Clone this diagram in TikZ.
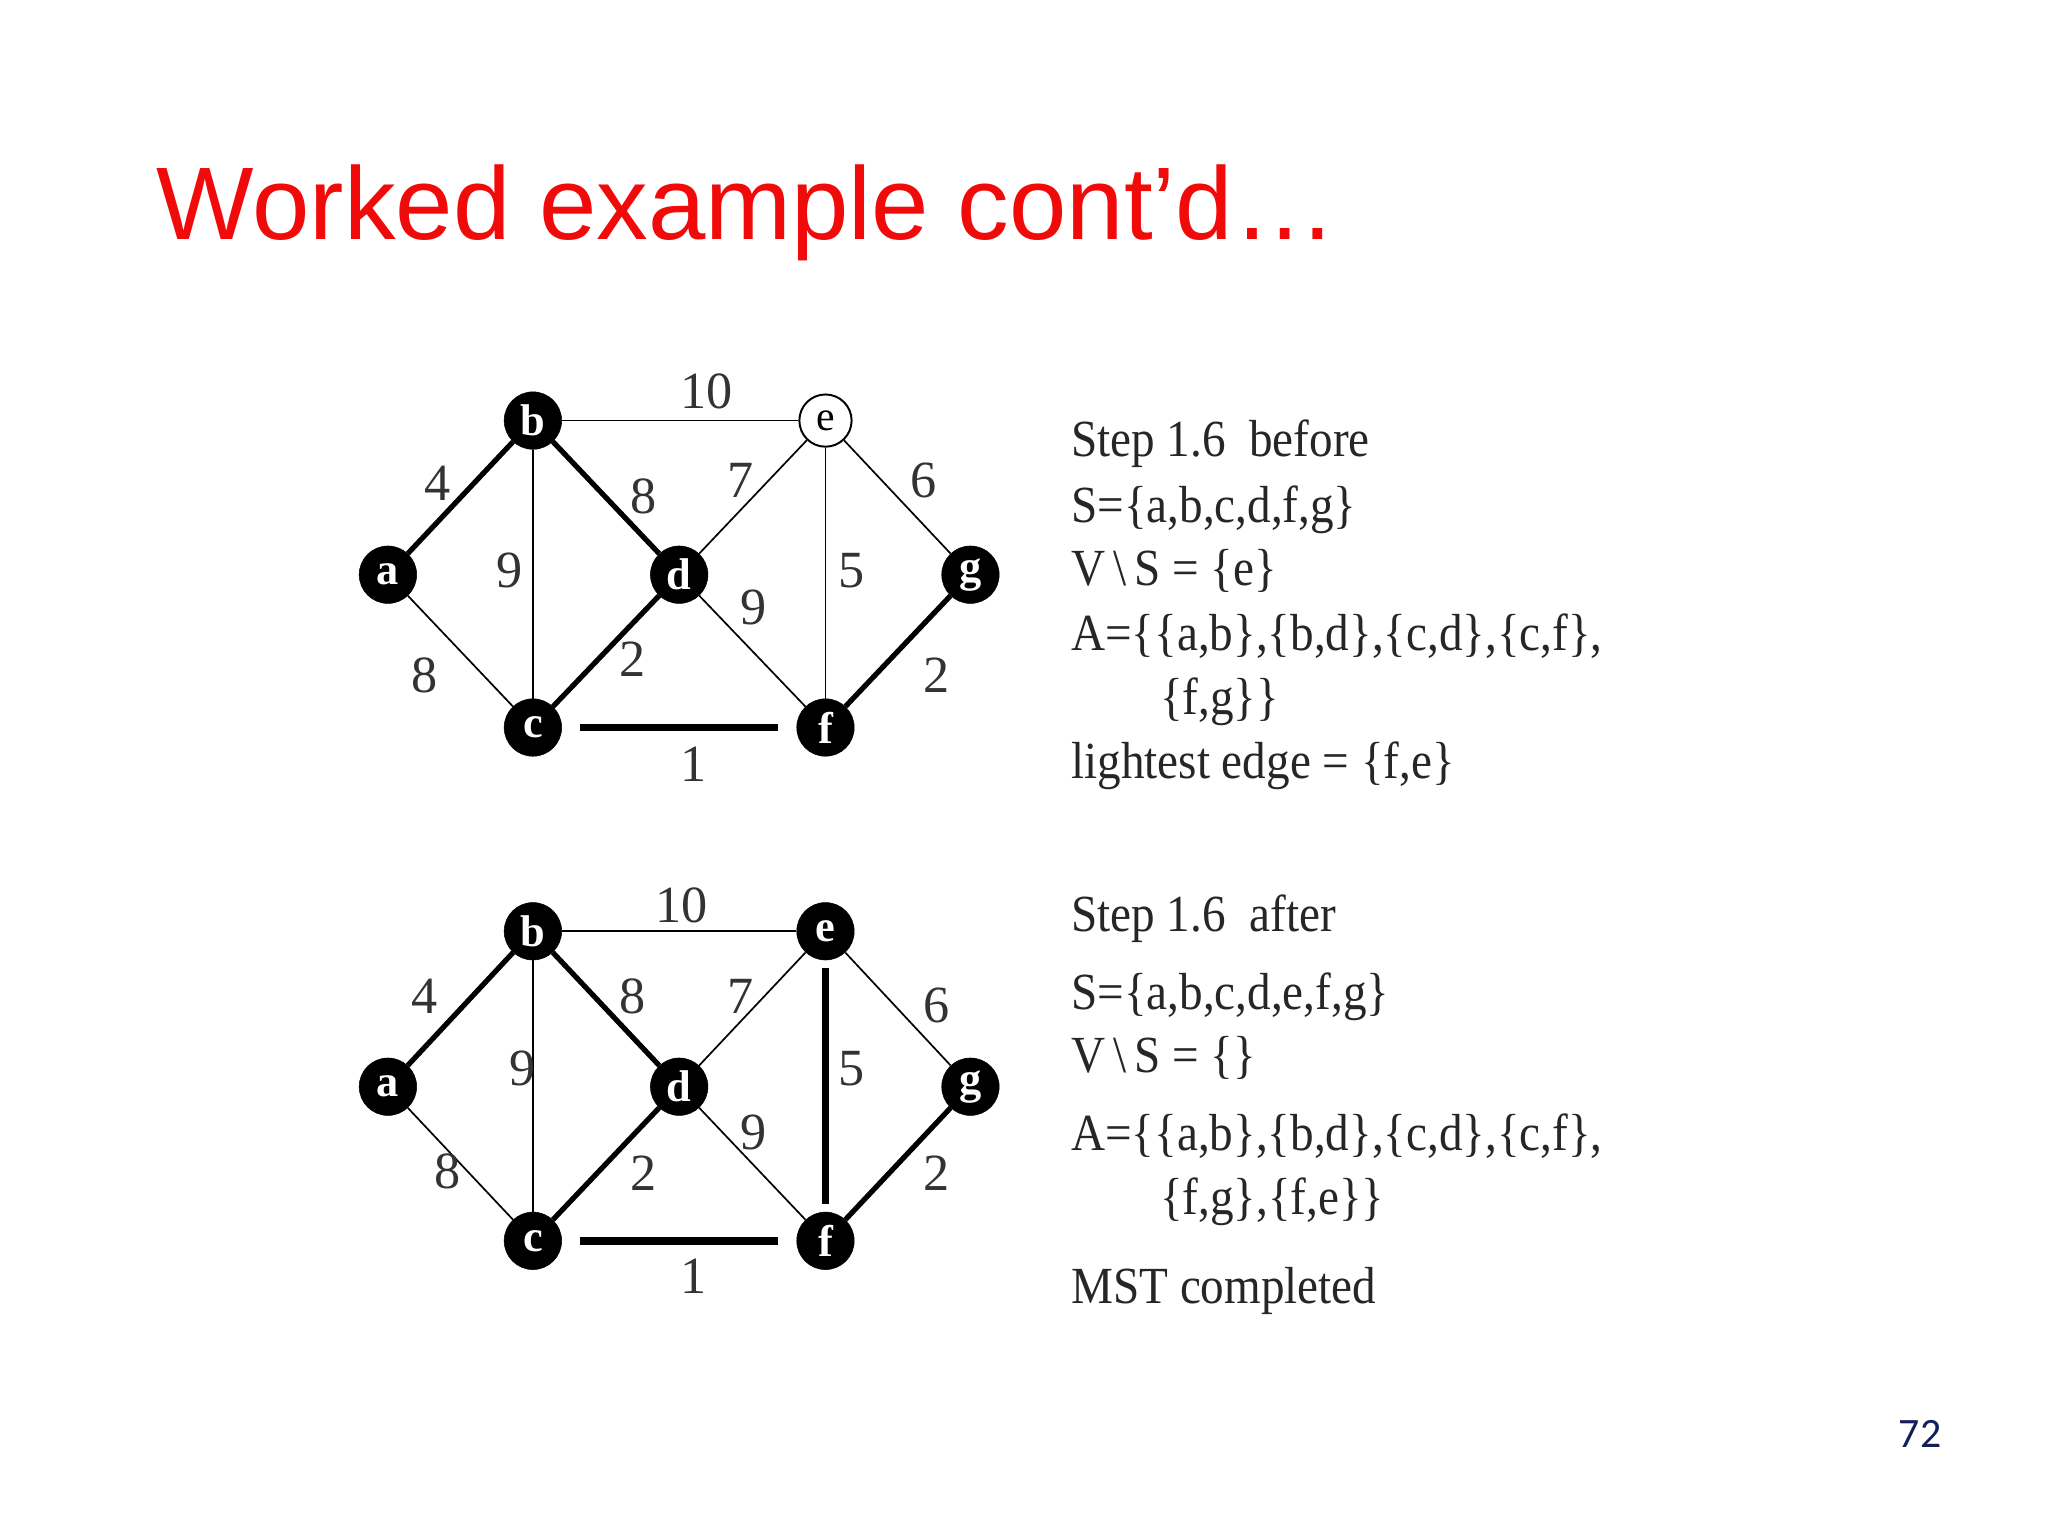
\documentclass[tikz,border=0pt]{standalone}
\usepackage{fontspec}
\setmainfont{Liberation Serif}
\newfontfamily\titlefont{Liberation Sans}
\newfontfamily\numfont{Carlito}
\definecolor{titlered}{RGB}{240,10,10}
\definecolor{navy}{RGB}{20,30,90}
\begin{document}
\begin{tikzpicture}[x=1pt,y=-1pt,
  vtx/.style={circle,fill=black,draw=black,minimum size=44pt,inner sep=0pt,text=white,font=\fontsize{34}{34}\selectfont\bfseries},
  wvtx/.style={circle,fill=white,draw=black,line width=1.5pt,minimum size=40pt,inner sep=0pt,font=\fontsize{32}{32}\selectfont},
  thin/.style={line width=1.3pt},
  thk/.style={line width=4pt},
  vthk/.style={line width=6pt,shorten <=14pt,shorten >=14pt},
  wl/.style={font=\fontsize{40}{40}\selectfont,text=black!80},
  txt/.style={anchor=west,font=\fontsize{38}{40}\selectfont,text=black!85,inner sep=0pt,xscale=0.95,yscale=1.05}]
\useasboundingbox (0,0) rectangle (1568,1176);
\node[anchor=base west,text=titlered,font=\fontsize{79}{79}\titlefont,inner sep=0pt] (title) at (120,183) {Worked example cont’d…};
\node[text=navy,font=\fontsize{32}{32}\numfont] (pg) at (1470,1098) {72};
% top graph
\node[vtx] (a1) at (297,440) {a};
\node[vtx] (b1) at (408,322) {b};
\node[vtx] (c1) at (408,557) {c};
\node[vtx] (d1) at (520,440) {d};
\node[wvtx] (e1) at (632,322) {e};
\node[vtx] (f1) at (632,557) {f};
\node[vtx] (g1) at (743,440) {g};
\draw[thk] (a1)--(b1); \draw[thk] (b1)--(d1); \draw[thk] (c1)--(d1); \draw[thk] (f1)--(g1);
\draw[vthk] (c1)--(f1);
\draw[thin] (b1)--(e1); \draw[thin] (a1)--(c1); \draw[thin] (b1)--(c1); \draw[thin] (d1)--(e1);
\draw[thin] (d1)--(f1); \draw[thin] (e1)--(f1); \draw[thin] (e1)--(g1);
\node[wl] (l1) at (541,300) {10}; \node[wl] (l2) at (335,370) {4}; \node[wl] (l3) at (493,380) {8};
\node[wl] (l4) at (567,368) {7}; \node[wl] (l5) at (707,368) {6}; \node[wl] (l6) at (390,437) {9};
\node[wl] (l7) at (652,437) {5}; \node[wl] (l8) at (577,465) {9}; \node[wl] (l9) at (325,517) {8};
\node[wl] (l10) at (484,505) {2}; \node[wl] (l11) at (717,517) {2}; \node[wl] (l12) at (531,585) {1};
% bottom graph
\node[vtx] (a2) at (297,832) {a};
\node[vtx] (b2) at (408,713) {b};
\node[vtx] (c2) at (408,950) {c};
\node[vtx] (d2) at (520,832) {d};
\node[vtx] (e2) at (632,713) {e};
\node[vtx] (f2) at (632,950) {f};
\node[vtx] (g2) at (743,832) {g};
\draw[thk] (a2)--(b2); \draw[thk] (b2)--(d2); \draw[thk] (c2)--(d2); \draw[thk] (f2)--(g2);
\draw[vthk] (c2)--(f2);
\draw[line width=6pt,shorten <=6pt,shorten >=6pt] (e2)--(f2);
\draw[thin] (b2)--(e2); \draw[thin] (a2)--(c2); \draw[thin] (b2)--(c2); \draw[thin] (d2)--(e2);
\draw[thin] (d2)--(f2); \draw[thin] (e2)--(g2);
\node[wl] (m1) at (522,693) {10}; \node[wl] (m2) at (325,763) {4}; \node[wl] (m3) at (484,763) {8};
\node[wl] (m4) at (567,763) {7}; \node[wl] (m5) at (717,770) {6}; \node[wl] (m6) at (400,818) {9};
\node[wl] (m7) at (652,818) {5}; \node[wl] (m8) at (577,867) {9}; \node[wl] (m9) at (343,897) {8};
\node[wl] (m10) at (493,898) {2}; \node[wl] (m11) at (717,898) {2}; \node[wl] (m12) at (531,977) {1};
% texts
\node[txt] (t1) at (820,340) {Step 1.6\ \ before};
\node[txt] (t2) at (820,390) {S=\{a,b,c,d,f,g\}};
\node[txt] (t3) at (820,437) {V\,\textbackslash\,S = \{e\}};
\node[txt] (t4) at (820,487) {A=\{\{a,b\},\{b,d\},\{c,d\},\{c,f\},};
\node[txt] (t5) at (888,537) {\{f,g\}\}};
\node[txt] (t6) at (820,586) {lightest edge = \{f,e\}};
\node[txt] (u1) at (820,703) {Step 1.6\ \ after};
\node[txt] (u2) at (820,763) {S=\{a,b,c,d,e,f,g\}};
\node[txt] (u3) at (820,810) {V\,\textbackslash\,S = \{\}};
\node[txt] (u4) at (820,870) {A=\{\{a,b\},\{b,d\},\{c,d\},\{c,f\},};
\node[txt] (u5) at (888,920) {\{f,g\},\{f,e\}\}};
\node[txt] (u6) at (820,988) {MST completed};
\end{tikzpicture}
\end{document}
